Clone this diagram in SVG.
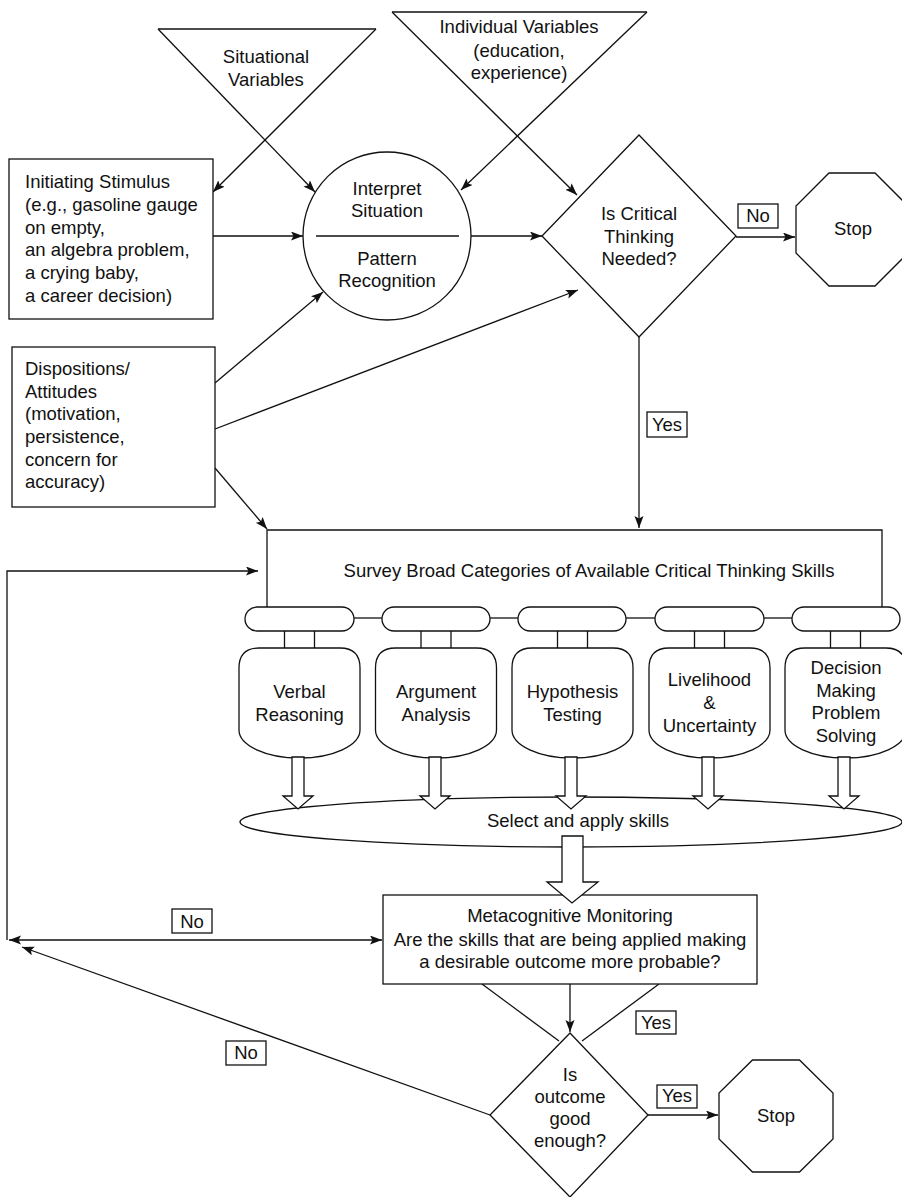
<svg xmlns="http://www.w3.org/2000/svg" width="902" height="1197" viewBox="0 0 902 1197">
<defs>
<marker id="ah" markerUnits="userSpaceOnUse" markerWidth="13" markerHeight="10" refX="12" refY="4.5" orient="auto-start-reverse">
<path d="M0,0 L12,4.5 L0,9 L2.5,4.5 z" fill="#111"/>
</marker>
<style>
.s{fill:#fff;stroke:#111;stroke-width:1.3}
.n{fill:none;stroke:#111;stroke-width:1.3}
.a{fill:none;stroke:#111;stroke-width:1.3;marker-end:url(#ah)}
text{font-family:"Liberation Sans",Arial,sans-serif;font-size:18.5px;fill:#111}
.c{text-anchor:middle}
</style>
</defs>
<rect width="902" height="1197" fill="#fff"/>

<g id="connectors">
<line class="a" x1="158" y1="29" x2="315" y2="192"/>
<line class="a" x1="376" y1="29" x2="213" y2="192"/>
<line class="a" x1="392" y1="12" x2="577" y2="195"/>
<line class="a" x1="647" y1="12" x2="461" y2="190"/>
<line class="a" x1="213" y1="236" x2="303" y2="236"/>
<line class="a" x1="471" y1="236" x2="542" y2="236"/>
<line class="a" x1="736" y1="237" x2="795" y2="237"/>
<line class="a" x1="215" y1="383" x2="323" y2="292"/>
<line class="a" x1="215" y1="429" x2="578" y2="290"/>
<line class="a" x1="215" y1="468" x2="267" y2="529"/>
<line class="a" x1="639" y1="337" x2="639" y2="528"/>
<polyline class="a" points="7,940 7,571 258,571"/>
<line class="n" x1="9" y1="940" x2="382" y2="940" style="marker-start:url(#ah);marker-end:url(#ah)"/>
<line class="a" x1="490" y1="1115" x2="22" y2="947"/>
<line class="n" x1="482" y1="984" x2="559" y2="1041"/>
<line class="n" x1="659" y1="984" x2="582" y2="1041"/>
<line class="a" x1="570" y1="984" x2="570" y2="1032"/>
<line class="a" x1="648" y1="1115" x2="718" y2="1115"/>
</g>

<g id="situational-variables">
<line class="n" x1="158" y1="29" x2="376" y2="29"/>
<text class="c" x="266" y="63">Situational</text>
<text class="c" x="266" y="86">Variables</text>
</g>

<g id="individual-variables">
<line class="n" x1="392" y1="12" x2="647" y2="12"/>
<text class="c" x="519" y="33">Individual Variables</text>
<text class="c" x="519" y="57">(education,</text>
<text class="c" x="519" y="79">experience)</text>
</g>

<g id="initiating-stimulus">
<rect class="s" x="9" y="159" width="204" height="160"/>
<text x="25" y="188">Initiating Stimulus</text>
<text x="25" y="211">(e.g., gasoline gauge</text>
<text x="25" y="234">on empty,</text>
<text x="25" y="256">an algebra problem,</text>
<text x="25" y="279">a crying baby,</text>
<text x="25" y="302">a career decision)</text>
</g>

<g id="interpret-situation">
<circle class="s" cx="387" cy="236" r="84"/>
<line class="n" x1="316" y1="236" x2="459" y2="236"/>
<text class="c" x="387" y="195">Interpret</text>
<text class="c" x="387" y="217">Situation</text>
<text class="c" x="387" y="265">Pattern</text>
<text class="c" x="387" y="287">Recognition</text>
</g>

<g id="critical-thinking-needed">
<polygon class="s" points="639,135 736,236 639,337 542,236"/>
<text class="c" x="639" y="220">Is Critical</text>
<text class="c" x="639" y="243">Thinking</text>
<text class="c" x="639" y="265">Needed?</text>
</g>

<g id="stop-1">
<polygon class="s" points="829,173 875,173 908,206 908,253 875,286 829,286 796,253 796,206"/>
<text class="c" x="853" y="235">Stop</text>
</g>

<g id="dispositions">
<rect class="s" x="12" y="347" width="203" height="160"/>
<text x="25" y="375">Dispositions/</text>
<text x="25" y="398">Attitudes</text>
<text x="25" y="420">(motivation,</text>
<text x="25" y="443">persistence,</text>
<text x="25" y="466">concern for</text>
<text x="25" y="488">accuracy)</text>
</g>

<g id="survey">
<polyline class="n" points="267,607 267,530 882,530 882,607"/>
<text class="c" x="589" y="577">Survey Broad Categories of Available Critical Thinking Skills</text>
<line class="n" x1="354" y1="618" x2="382" y2="618"/>
<line class="n" x1="490" y1="618" x2="518" y2="618"/>
<line class="n" x1="626" y1="618" x2="655" y2="618"/>
<line class="n" x1="764" y1="618" x2="792" y2="618"/>
<rect class="s" x="245" y="607" width="109" height="24" rx="12"/>
<rect class="s" x="382" y="607" width="108" height="24" rx="12"/>
<rect class="s" x="518" y="607" width="108" height="24" rx="12"/>
<rect class="s" x="655" y="607" width="109" height="24" rx="12"/>
<rect class="s" x="792" y="607" width="108" height="24" rx="12"/>
</g>

<g id="verbal-reasoning">
<path class="n" d="M284.5,631 V648 M314.5,631 V648"/>
<path class="s" d="M239,668 Q239,648 259,648 H340 Q360,648 360,668 V730 A60.5,28 0 0 1 239,730 Z"/>
<text class="c" x="299.5" y="698">Verbal</text>
<text class="c" x="299.5" y="721">Reasoning</text>
</g>

<g id="argument-analysis">
<path class="n" d="M421,631 V648 M451,631 V648"/>
<path class="s" d="M375.5,668 Q375.5,648 395.5,648 H476.5 Q496.5,648 496.5,668 V730 A60.5,28 0 0 1 375.5,730 Z"/>
<text class="c" x="436" y="698">Argument</text>
<text class="c" x="436" y="721">Analysis</text>
</g>

<g id="hypothesis-testing">
<path class="n" d="M557.5,631 V648 M587.5,631 V648"/>
<path class="s" d="M512,668 Q512,648 532,648 H613 Q633,648 633,668 V730 A60.5,28 0 0 1 512,730 Z"/>
<text class="c" x="572.5" y="698">Hypothesis</text>
<text class="c" x="572.5" y="721">Testing</text>
</g>

<g id="livelihood-uncertainty">
<path class="n" d="M694.5,631 V648 M724.5,631 V648"/>
<path class="s" d="M649,668 Q649,648 669,648 H750 Q770,648 770,668 V730 A60.5,28 0 0 1 649,730 Z"/>
<text class="c" x="709.5" y="686">Livelihood</text>
<text class="c" x="709.5" y="709">&amp;</text>
<text class="c" x="709.5" y="732">Uncertainty</text>
</g>

<g id="decision-making">
<path class="n" d="M830.5,631 V648 M860.5,631 V648"/>
<path class="s" d="M785,668 Q785,648 805,648 H886 Q906,648 906,668 V730 A60.5,28 0 0 1 785,730 Z"/>
<text class="c" x="846" y="674">Decision</text>
<text class="c" x="846" y="697">Making</text>
<text class="c" x="846" y="719">Problem</text>
<text class="c" x="846" y="742">Solving</text>
</g>

<g id="select-apply">
<ellipse class="s" cx="571" cy="822" rx="331" ry="25"/>
<text class="c" x="578" y="827">Select and apply skills</text>
<polygon class="s" points="292,757 304,757 304,796 313,796 298,809 283,796 292,796"/>
<polygon class="s" points="429,757 441,757 441,796 450,796 435,809 420,796 429,796"/>
<polygon class="s" points="565,757 577,757 577,796 586,796 571,809 556,796 565,796"/>
<polygon class="s" points="702,757 714,757 714,796 723,796 708,809 693,796 702,796"/>
<polygon class="s" points="838,757 850,757 850,796 859,796 844,809 829,796 838,796"/>
</g>

<g id="metacognitive-monitoring">
<rect class="s" x="383" y="895" width="374" height="89"/>
<text class="c" x="570" y="922">Metacognitive Monitoring</text>
<text class="c" x="570" y="946">Are the skills that are being applied making</text>
<text class="c" x="570" y="968">a desirable outcome more probable?</text>
<polygon class="s" points="562,836 583,836 583,882 598,882 572,903 547,882 562,882"/>
</g>

<g id="outcome-good-enough">
<polygon class="s" points="570,1033 648,1115 570,1197 490,1115"/>
<text class="c" x="570" y="1081">Is</text>
<text class="c" x="570" y="1103">outcome</text>
<text class="c" x="570" y="1125">good</text>
<text class="c" x="570" y="1147">enough?</text>
</g>

<g id="stop-2">
<polygon class="s" points="752.5,1060 799.5,1060 833,1093 833,1139 799.5,1172 752.5,1172 719,1139 719,1093"/>
<text class="c" x="776" y="1122">Stop</text>
</g>

<g id="labels">
<rect class="s" x="738" y="204" width="40" height="24"/>
<text class="c" x="758" y="222">No</text>
<rect class="s" x="647" y="412" width="40" height="25"/>
<text class="c" x="667" y="431">Yes</text>
<rect class="s" x="172" y="909" width="40" height="24"/>
<text class="c" x="192" y="928">No</text>
<rect class="s" x="226" y="1041" width="40" height="24"/>
<text class="c" x="246" y="1059">No</text>
<rect class="s" x="636" y="1011" width="40" height="23"/>
<text class="c" x="656" y="1029">Yes</text>
<rect class="s" x="657" y="1085" width="40" height="23"/>
<text class="c" x="677" y="1102">Yes</text>
</g>
</svg>
